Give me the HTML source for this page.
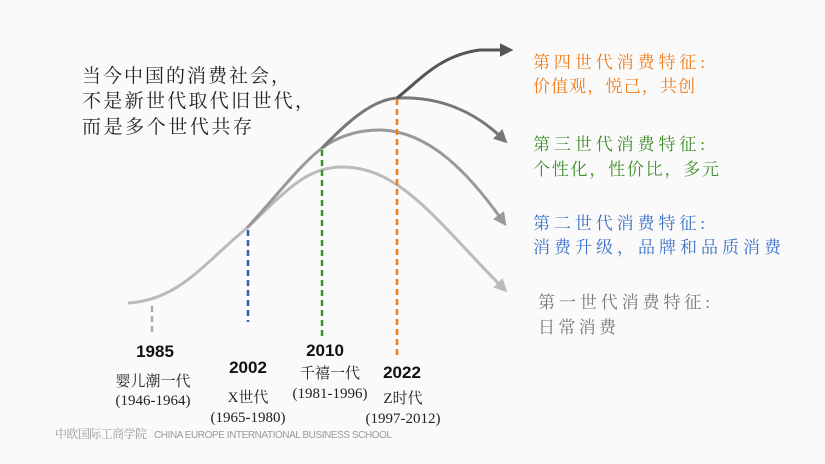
<!DOCTYPE html>
<html><head><meta charset="utf-8"><style>
html,body{margin:0;padding:0;background:#fafafa;}
svg{display:block;}
.s{font-family:"Liberation Serif","Noto Serif CJK SC",serif;}
.b{font-family:"Liberation Sans","Noto Sans CJK SC",sans-serif;font-weight:bold;}
</style></head><body>
<svg width="825" height="464" viewBox="0 0 825 464" xmlns="http://www.w3.org/2000/svg">
<defs>
<marker id="a1" markerWidth="4.5" markerHeight="4.5" refX="2" refY="2.25" orient="auto" markerUnits="strokeWidth"><path d="M0,0 L4.5,2.25 L0,4.5 z" fill="#bbb"/></marker>
<marker id="a2" markerWidth="4.5" markerHeight="4.5" refX="2" refY="2.25" orient="auto" markerUnits="strokeWidth"><path d="M0,0 L4.5,2.25 L0,4.5 z" fill="#999"/></marker>
<marker id="a3" markerWidth="4.5" markerHeight="4.5" refX="2" refY="2.25" orient="auto" markerUnits="strokeWidth"><path d="M0,0 L4.5,2.25 L0,4.5 z" fill="#777"/></marker>
<marker id="a4" markerWidth="4.5" markerHeight="4.5" refX="2" refY="2.25" orient="auto" markerUnits="strokeWidth"><path d="M0,0 L4.5,2.25 L0,4.5 z" fill="#555"/></marker>
</defs>
<rect width="825" height="464" fill="#fafafa"/>
<g fill="none" stroke-width="3">
<path d="M128,303 C180,300 205,262 247,228 C285,192 305,168 340,167 C400,165 440,225 502,287" stroke="#bbb" marker-end="url(#a1)"/>
<path d="M247,228 C280,192 300,165 322,148 C340,135 360,130 380,130 C430,131 470,175 502,220" stroke="#999" marker-end="url(#a2)"/>
<path d="M322,148 C345,125 370,100 397,98 C440,96 475,112 502,138" stroke="#777" marker-end="url(#a3)"/>
<path d="M397,98 C420,80 440,55 480,50 L506,50" stroke="#555" marker-end="url(#a4)"/>
</g>
<g stroke-width="2.5" stroke-dasharray="6,4" fill="none">
<line x1="152" y1="306" x2="152" y2="335" stroke="#aaa"/>
<line x1="248" y1="230" x2="248" y2="322" stroke="#2e5fae"/>
<line x1="322" y1="150" x2="322" y2="338" stroke="#3f8f2a"/>
<line x1="397" y1="99" x2="397" y2="355" stroke="#f07d1a"/>
</g>
<g class="s" font-size="19" fill="#222">
<text x="82" y="82" textLength="208">当今中国的消费社会，</text>
<text x="82" y="107" textLength="232">不是新世代取代旧世代，</text>
<text x="82" y="133" textLength="170">而是多个世代共存</text>
</g>
<g class="s" font-size="17">
<text x="533" y="68" fill="#f07d1a" textLength="172">第四世代消费特征:</text>
<text x="533" y="92" fill="#f07d1a" textLength="162">价值观，悦己，共创</text>
<text x="533" y="150" fill="#3f8f2a" textLength="172">第三世代消费特征:</text>
<text x="533" y="175" fill="#3f8f2a" textLength="186">个性化，性价比，多元</text>
<text x="533" y="229" fill="#3a72c8" textLength="172">第二世代消费特征:</text>
<text x="533" y="253" fill="#3a72c8" textLength="248">消费升级，品牌和品质消费</text>
<text x="538" y="308" fill="#777" textLength="172">第一世代消费特征:</text>
<text x="538" y="333" fill="#777" textLength="78">日常消费</text>
</g>
<g class="b" font-size="17" fill="#111" text-anchor="middle">
<text x="155" y="357">1985</text>
<text x="248" y="373">2002</text>
<text x="325" y="356">2010</text>
<text x="402" y="378">2022</text>
</g>
<g class="s" font-size="15" fill="#222" text-anchor="middle">
<text x="153" y="386">婴儿潮一代</text>
<text x="153" y="405">(1946-1964)</text>
<text x="248" y="402">X世代</text>
<text x="248" y="422">(1965-1980)</text>
<text x="330" y="378">千禧一代</text>
<text x="330" y="398">(1981-1996)</text>
<text x="403" y="403">Z时代</text>
<text x="403" y="423">(1997-2012)</text>
</g>
<g fill="#999">
<text x="55" y="438" class="s" font-size="12" textLength="92">中欧国际工商学院</text>
<text x="154" y="438" font-family="Liberation Sans,sans-serif" font-size="10" textLength="238">CHINA EUROPE INTERNATIONAL BUSINESS SCHOOL</text>
</g>
</svg>
</body></html>
